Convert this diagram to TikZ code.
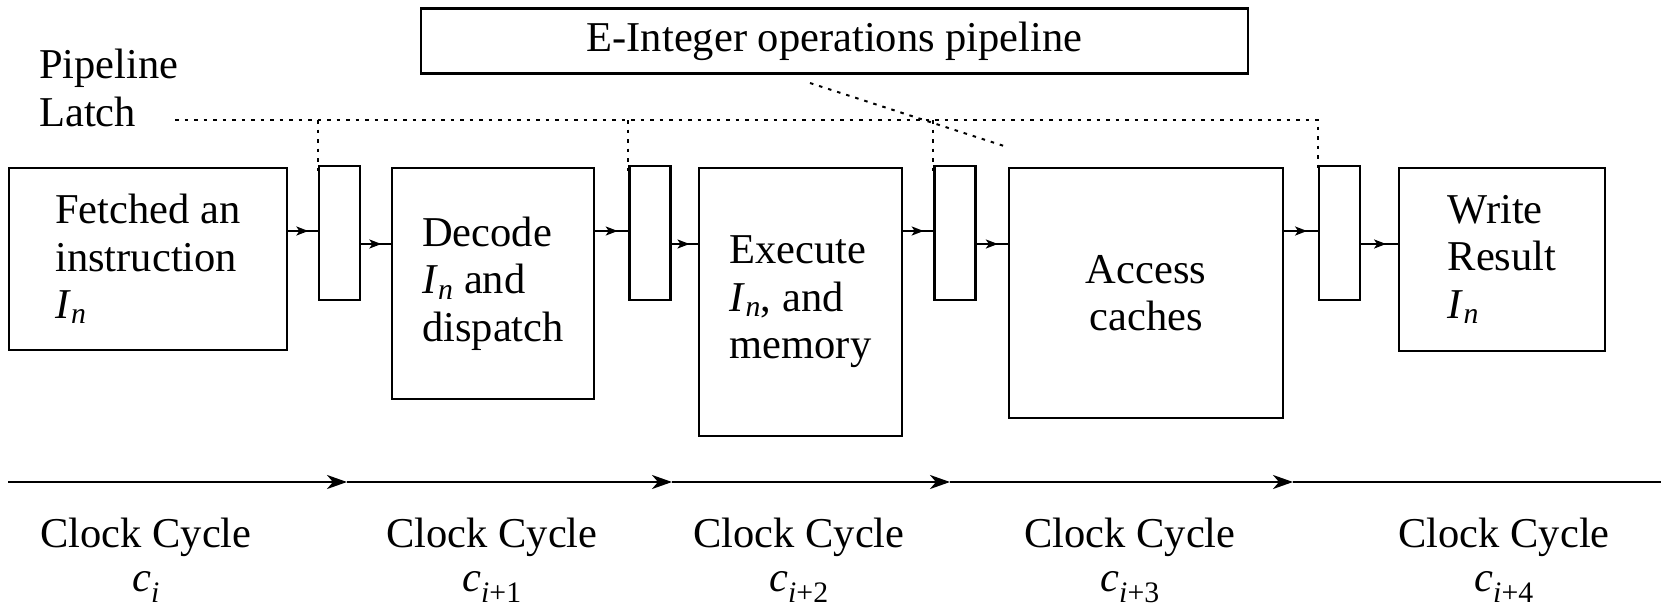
\documentclass[tikz,border=0pt]{standalone}
\usepackage{fontspec}
\setmainfont{Liberation Serif}
\usetikzlibrary{arrows.meta,decorations.markings,calc}
\newcommand{\In}{\textit{I}\textsubscript{\textit{n}}}
\newcommand{\cyc}[1]{\textit{c}\textsubscript{\textit{i}#1}}
\begin{document}
\begin{tikzpicture}[x=1pt,y=-1pt,
  font=\fontsize{42.5}{47.5}\selectfont,
  box/.style={draw, line width=2.2pt, inner sep=0pt, align=left},
  latch/.style={draw, line width=2.2pt, minimum width=41pt, minimum height=134pt, inner sep=0pt},
  flow/.style={line width=2pt, postaction={decorate},
    decoration={markings, mark=at position 0.68 with {\arrow{Stealth[length=12pt,width=9pt,inset=3pt]}}}},
  latchline/.style={line width=2pt, dash pattern=on 3.5pt off 6pt},
  timeline/.style={line width=2.5pt},
  tlarrow/.style={-{Stealth[length=20pt,width=14pt,inset=6pt]}},
  cyclabel/.style={align=center, inner sep=0pt, anchor=north, font=\fontsize{42.5}{44}\selectfont}]
\useasboundingbox (0,0) rectangle (1665,608);

% top label box
\node[draw, line width=2.2pt, minimum width=827pt, minimum height=65pt, inner sep=0pt] (top) at (834.5,41) {E-Integer operations pipeline};

% pipeline latch label
\node[align=left, inner sep=0pt, anchor=north west] (pl) at (39,49) {Pipeline\\Latch};

% stage boxes
\node[box, minimum width=278pt, minimum height=182pt] (b1) at (148,259) {Fetched an\\instruction\\\In};
\node[box, minimum width=202pt, minimum height=231pt] (b2) at (493,283.5) {Decode\\\In{} and\\dispatch};
\node[box, minimum width=203pt, minimum height=268pt] (b3) at (800.5,302) {Execute\\\In, and\\memory};
\node[box, minimum width=274pt, minimum height=250pt, align=center] (b4) at (1146,293) {Access\\caches};
\node[box, minimum width=206pt, minimum height=183pt] (b5) at (1502,259.5) {Write\\Result\\\In};

% latches
\node[latch] (l1) at (339.5,233) {};
\node[latch] (l2) at (650,233) {};
\node[latch] (l3) at (955,233) {};
\node[latch] (l4) at (1339.5,233) {};

% connectors
\draw[flow] (b1.east |- 0,231) -- (l1.west |- 0,231);
\draw[flow] (l1.east |- 0,244) -- (b2.west |- 0,244);
\draw[flow] (b2.east |- 0,231) -- (l2.west |- 0,231);
\draw[flow] (l2.east |- 0,244) -- (b3.west |- 0,244);
\draw[flow] (b3.east |- 0,231) -- (l3.west |- 0,231);
\draw[flow] (l3.east |- 0,244) -- (b4.west |- 0,244);
\draw[flow] (b4.east |- 0,231) -- (l4.west |- 0,231);
\draw[flow] (l4.east |- 0,244) -- (b5.west |- 0,244);

% dotted latch pointer lines
\coordinate (ds) at (175,120);
\draw[latchline] (ds) -- (l4.north west |- ds) -- ([yshift=-8pt]l4.north west);
\draw[latchline] (l1.north west |- ds) -- ([yshift=-8pt]l1.north west);
\draw[latchline] (l2.north west |- ds) -- ([yshift=-8pt]l2.north west);
\draw[latchline] (l3.north west |- ds) -- ([yshift=-8pt]l3.north west);

% diagonal pointer from top box to access box
\coordinate (dg1) at (810,83);
\coordinate (dg2) at (1004,146);
\draw[latchline] (dg1) -- (dg2);

% timeline
\coordinate (t0) at (8,482);
\coordinate (a1) at (347,482);
\coordinate (a2) at (672,482);
\coordinate (a3) at (950,482);
\coordinate (a4) at (1293,482);
\coordinate (tend) at (1661,482);
\draw[timeline, tlarrow] (t0) -- (a1);
\draw[timeline, tlarrow] (a1) -- (a2);
\draw[timeline, tlarrow] (a2) -- (a3);
\draw[timeline, tlarrow] (a3) -- (a4);
\draw[timeline] (a4) -- (tend);

% clock cycle labels
\node[cyclabel] (k1) at (146,518) {Clock Cycle\\\cyc{}};
\node[cyclabel] (k2) at (492,518) {Clock Cycle\\\cyc{+1}};
\node[cyclabel] (k3) at (799,518) {Clock Cycle\\\cyc{+2}};
\node[cyclabel] (k4) at (1130,518) {Clock Cycle\\\cyc{+3}};
\node[cyclabel] (k5) at (1504,518) {Clock Cycle\\\cyc{+4}};
\end{tikzpicture}
\end{document}
